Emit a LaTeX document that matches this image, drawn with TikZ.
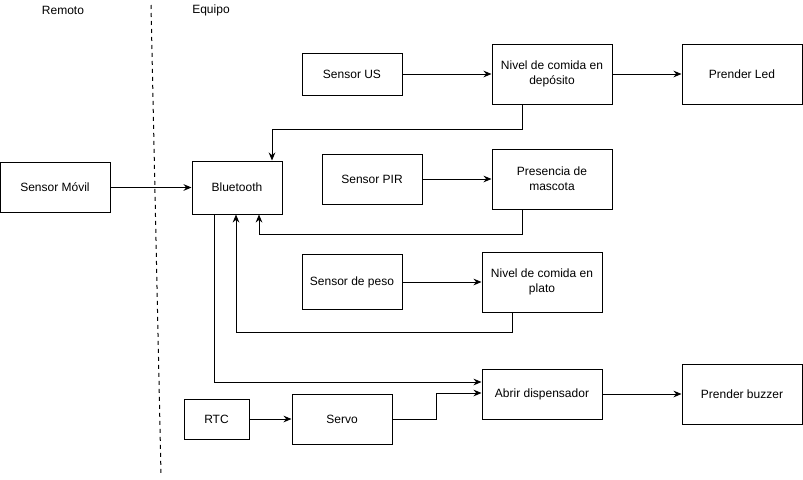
\documentclass[tikz,border=0pt]{standalone}
\usepackage{fontspec}
\setmainfont{Liberation Sans}
\usetikzlibrary{arrows.meta,calc}

\begin{document}
\begin{tikzpicture}[x=0.75pt,y=-0.75pt,
    blk/.style={draw, line width=0.75pt, align=center, inner sep=0pt, font=\fontsize{9}{11}\selectfont},
    dims/.style 2 args={minimum width=#1*0.75pt, minimum height=#2*0.75pt},
    wire/.style={line width=0.75pt, -{Stealth[length=6pt,width=5pt]}}]
    \useasboundingbox (0,0) rectangle (803,479);

    % Remoto | Equipo
    \draw[dashed, line width=0.75pt] (151,5) -- (161,475);
    \node[font=\fontsize{9}{11}\selectfont] (remoto) at (63,10) {Remoto};
    \node[font=\fontsize{9}{11}\selectfont] (equipo) at (211,10) {Equipo};

    % Blocks
    \node[blk, dims={110}{50}] (movil) at (55,187.5) {Sensor Móvil};
    \node[blk, dims={90}{53}] (bt) at (237,187.5) {Bluetooth};
    \node[blk, dims={100}{42}] (us) at (352,74) {Sensor US};
    \node[blk, dims={120}{60}] (dep) at (552,74) {Nivel de comida en\\depósito};
    \node[blk, dims={120}{60}] (led) at (742,74) {Prender Led};
    \node[blk, dims={100}{50}] (pir) at (372,179) {Sensor PIR};
    \node[blk, dims={120}{60}] (masc) at (552,179) {Presencia de\\mascota};
    \node[blk, dims={100}{55}] (peso) at (352,282) {Sensor de peso};
    \node[blk, dims={120}{60}] (plato) at (542,282) {Nivel de comida en\\plato};
    \node[blk, dims={120}{50}] (abrir) at (542,394) {Abrir dispensador};
    \node[blk, dims={120}{60}] (buzzer) at (742,394) {Prender buzzer};
    \node[blk, dims={100}{50}] (servo) at (342,419) {Servo};
    \node[blk, dims={65}{40}] (rtc) at (216.5,419) {RTC};

    % Straight links
    \draw[wire] (movil) -- (bt);
    \draw[wire] (us) -- (dep);
    \draw[wire] (dep) -- (led);
    \draw[wire] (pir) -- (masc);
    \draw[wire] (peso) -- (plato);
    \draw[wire] (abrir) -- (buzzer);
    \draw[wire] (rtc) -- (servo);

    % Feedback to Bluetooth
    \draw[wire] ($(dep.south)+(-30,0)$) -- ++(0,25) -| ($(bt.north)+(35,0)$);
    \draw[wire] ($(masc.south)+(-30,0)$) -- ++(0,25) -| ($(bt.south)+(22,0)$);
    \draw[wire] ($(plato.south)+(-30,0)$) -- ++(0,20) -| ($(bt.south)+(-1,0)$);

    % Dispensador
    \draw[wire] ($(bt.south)+(-23,0)$) |- ($(abrir.west)+(0,-12)$);
    \draw[wire] (servo.east) -- ++(44,0) |- ($(abrir.west)+(0,-1)$);
\end{tikzpicture}
\end{document}
